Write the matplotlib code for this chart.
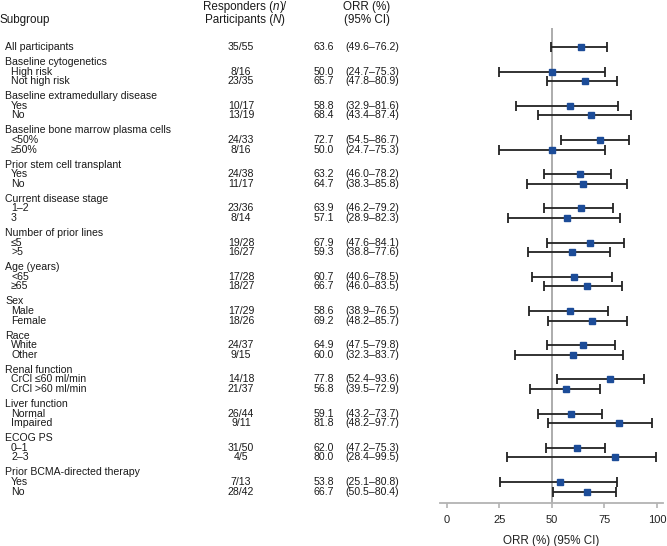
import matplotlib
matplotlib.use("Agg")
import matplotlib.pyplot as plt
import matplotlib.transforms as mtransforms

plt.rcParams['font.family'] = ['Liberation Sans', 'DejaVu Sans']

# Data
groups = [
    "Baseline cytogenetics", "Baseline extramedullary disease",
    "Baseline bone marrow plasma cells", "Prior stem cell transplant",
    "Current disease stage", "Number of prior lines", "Age (years)", "Sex",
    "Race", "Renal function", "Liver function", "ECOG PS",
    "Prior BCMA-directed therapy",
]
subgroups = [
    ["High risk", "Not high risk"], ["Yes", "No"], ["<50%", "≥50%"],
    ["Yes", "No"], ["1–2", "3"], ["≤5", ">5"], ["<65", "≥65"],
    ["Male", "Female"], ["White", "Other"],
    ["CrCl ≤60 ml/min", "CrCl >60 ml/min"], ["Normal", "Impaired"],
    ["0–1", "2–3"], ["Yes", "No"],
]
responders = [35, 8, 23, 10, 13, 24, 8, 24, 11, 23, 8, 19, 16, 17, 18,
              17, 18, 24, 9, 14, 21, 26, 9, 31, 4, 7, 28]
participants = [55, 16, 35, 17, 19, 33, 16, 38, 17, 36, 14, 28, 27, 28, 27,
                 29, 26, 37, 15, 18, 37, 44, 11, 50, 5, 13, 42]
orr = [63.6, 50.0, 65.7, 58.8, 68.4, 72.7, 50.0, 63.2, 64.7, 63.9, 57.1,
       67.9, 59.3, 60.7, 66.7, 58.6, 69.2, 64.9, 60.0, 77.8, 56.8, 59.1,
       81.8, 62.0, 80.0, 53.8, 66.7]
ci_low = [49.6, 24.7, 47.8, 32.9, 43.4, 54.5, 24.7, 46.0, 38.3, 46.2, 28.9,
          47.6, 38.8, 40.6, 46.0, 38.9, 48.2, 47.5, 32.3, 52.4, 39.5, 43.2,
          48.2, 47.2, 28.4, 25.1, 50.5]
ci_high = [76.2, 75.3, 80.9, 81.6, 87.4, 86.7, 75.3, 78.2, 85.8, 79.2, 82.3,
           84.1, 77.6, 78.5, 83.5, 76.5, 85.7, 79.8, 83.7, 93.6, 72.9, 73.7,
           97.7, 75.3, 99.5, 80.8, 80.4]

W, H = 667, 546
fig = plt.figure(figsize=(W / 100, H / 100), dpi=100)

# rows are laid out in pixel units (top = 0)
top_px, bot_px = 28, 503
ax = fig.add_axes([440 / W, 1 - bot_px / H, (663 - 440) / W, (bot_px - top_px) / H])
ax.set_ylim(bot_px, top_px)
ax.set_xlim(-3.33, 102.86)

row_y = [47]
header_y = []
for g in range(len(groups)):
    hy = 62 + g * 34.2
    header_y.append(hy)
    for k in range(len(subgroups[g])):
        row_y.append(hy + 9.6 * (k + 1))

row_labels = ["All participants"] + [s for sub in subgroups for s in sub]

# reference line and bars
ax.axvline(50, color='#a6a6a6', lw=1.3, zorder=1)
for y, o, lo, hi in zip(row_y, orr, ci_low, ci_high):
    ax.errorbar(o, y, xerr=[[o - lo], [hi - o]], fmt='none', ecolor='#222222',
                elinewidth=1.3, capsize=3.6, capthick=1.3, zorder=2)
ax.plot(orr, row_y, 's', color='#1c4c98', ms=4.6, zorder=3, mec='#1c4c98')

for s in ['top', 'right', 'left']:
    ax.spines[s].set_visible(False)
ax.spines['bottom'].set_color('#b3b3b3')
ax.spines['bottom'].set_linewidth(1.3)
ax.set_yticks([])
ax.set_xticks([0, 25, 50, 75, 100])
ax.tick_params(axis='x', colors='#b3b3b3', length=3.5, width=1.2, pad=5,
               labelcolor='#222222', labelsize=8)
ax.set_xlabel('ORR (%) (95% CI)', fontsize=8.4, color='#222222', labelpad=7)

# text columns: x in pixels of the figure, y in the row coordinate of the axes
tr = mtransforms.blended_transform_factory(
    mtransforms.Affine2D().scale(1 / W, 1) + fig.transFigure, ax.transData)
fs = 7.6
tc = '#1a1a1a'

ax.text(5, row_y[0], row_labels[0], transform=tr, ha='left', va='center', fontsize=fs, color=tc)
for g, hy in enumerate(header_y):
    ax.text(5, hy, groups[g], transform=tr, ha='left', va='center', fontsize=fs, color=tc)
for lab, y in zip(row_labels[1:], row_y[1:]):
    ax.text(11, y, lab, transform=tr, ha='left', va='center', fontsize=fs, color=tc)

for y, n, N, o, lo, hi in zip(row_y, responders, participants, orr, ci_low, ci_high):
    ax.text(241, y, f"{n}/{N}", transform=tr, ha='center', va='center', fontsize=fs, color=tc)
    ax.text(334, y, f"{o:.1f}", transform=tr, ha='right', va='center', fontsize=fs, color=tc)
    ax.text(345, y, f"({lo:.1f}–{hi:.1f})", transform=tr, ha='left', va='center', fontsize=fs, color=tc)

# column headers (pixel positions, baseline aligned)
hfs = 8.4
renderer = fig.canvas.get_renderer()


def header(xc, y, parts, ha='center'):
    # parts: list of (text, style); pieces are placed side by side
    texts = [fig.text(0, 1 - y / H, s, style=st, ha='left', va='baseline',
                      fontsize=hfs, color=tc) for s, st in parts]
    widths = [t.get_window_extent(renderer).width for t in texts]
    x = xc - sum(widths) / 2 if ha == 'center' else xc
    for t, w in zip(texts, widths):
        t.set_x(x / W)
        x += w


header(0, 23, [("Subgroup", 'normal')], ha='left')
header(245, 10, [("Responders (", 'normal'), ("n", 'italic'), (")/", 'normal')])
header(245, 23, [("Participants (", 'normal'), ("N", 'italic'), (")", 'normal')])
header(367, 10, [("ORR (%)", 'normal')])
header(367, 23, [("(95% CI)", 'normal')])

fig.savefig("out.png", dpi=100)
